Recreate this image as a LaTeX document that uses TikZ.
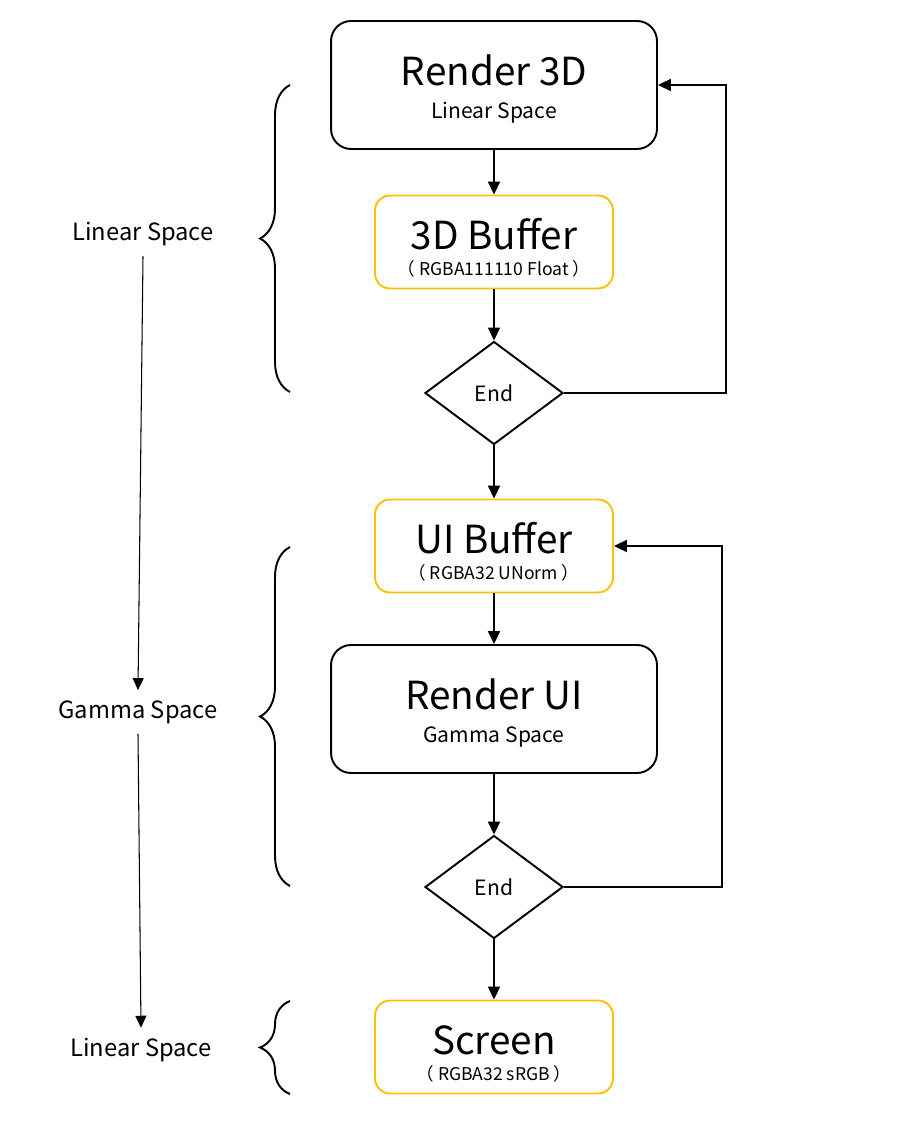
\documentclass[tikz,border=0pt]{standalone}
\usepackage{fontspec}
\setmainfont{Noto Sans CJK SC}
\usetikzlibrary{shapes.geometric,arrows.meta,decorations.pathreplacing}
\definecolor{bufferorange}{RGB}{255,192,0}
\tikzset{
	render/.style={draw=black, line width=1.1pt, rounded corners=0.4cm, minimum width=6.52cm, minimum height=2.56cm, align=center, font=\fontsize{12}{14}\selectfont},
	buffer/.style={draw=bufferorange, line width=1.1pt, rounded corners=0.3cm, minimum width=4.76cm, minimum height=1.86cm, align=center, font=\fontsize{10}{12}\selectfont},
	decide/.style={draw=black, diamond, line width=1.1pt, minimum width=2.76cm, minimum height=2.06cm, inner sep=0pt, aspect=1.34, font=\fontsize{12}{14}\selectfont},
	spacelabel/.style={inner sep=0.2cm, font=\fontsize{13.5}{16}\selectfont},
	flow/.style={line width=1.1pt, -{Triangle[length=0.26cm,width=0.24cm]}},
	thinflow/.style={line width=0.6pt, -{Triangle[length=0.24cm,width=0.22cm]}},
	spanbrace/.style={line width=1.1pt, decorate, decoration={brace,amplitude=0.6cm}},
}
\newcommand{\bigtext}[2][0pt]{{\fontsize{22}{24}\selectfont\rule{0pt}{#1}#2}}

\begin{document}
\begin{tikzpicture}[x=0.02cm,y=-0.02cm]
			\useasboundingbox (0,0) rectangle (912,1124);
			\node[render] (render3d) at (494,85) {\bigtext[22pt]{Render 3D}\\[5pt]Linear Space};
			\node[buffer] (buf3d) at (494,242) {\bigtext[24.4pt]{3D Buffer}\\[3pt]（ RGBA111110 Float ）};
			\node[decide] (end1) at (494,393) {End};
			\node[buffer] (uibuf) at (494,546) {\bigtext[24.4pt]{UI Buffer}\\[3pt]（ RGBA32 UNorm ）};
			\node[render] (renderui) at (494,709) {\bigtext[22pt]{Render UI}\\[5pt]Gamma Space};
			\node[decide] (end2) at (494,887) {End};
			\node[buffer] (screen) at (494,1047) {\bigtext[24.4pt]{Screen}\\[3pt]（ RGBA32 sRGB ）};
			
			\node[spacelabel] (linear1) at (143,234) {Linear Space};
			\node[spacelabel] (gamma) at (138,712) {Gamma Space};
			\node[spacelabel] (linear2) at (141,1050) {Linear Space};
			
			\draw[flow] (render3d) -- (buf3d);
			\draw[flow] (buf3d) -- (end1);
			\draw[flow] (end1) -- (uibuf);
			\draw[flow] (uibuf) -- (renderui);
			\draw[flow] (renderui) -- (end2);
			\draw[flow] (end2) -- (screen);
			
			\draw[flow] (end1.east) -- ++(162,0) |- (render3d.east);
			\draw[flow] (end2.east) -- ++(158,0) |- (uibuf.east);
			
			\draw[thinflow] (linear1.south) -- (gamma.north);
			\draw[thinflow] (gamma.south) -- (linear2.north);
			
			\draw[spanbrace] (290,392) -- (290,85);
			\draw[spanbrace] (290,886) -- (290,547);
			\draw[spanbrace] (290,1094) -- (290,1001);
		\end{tikzpicture}
\end{document}
